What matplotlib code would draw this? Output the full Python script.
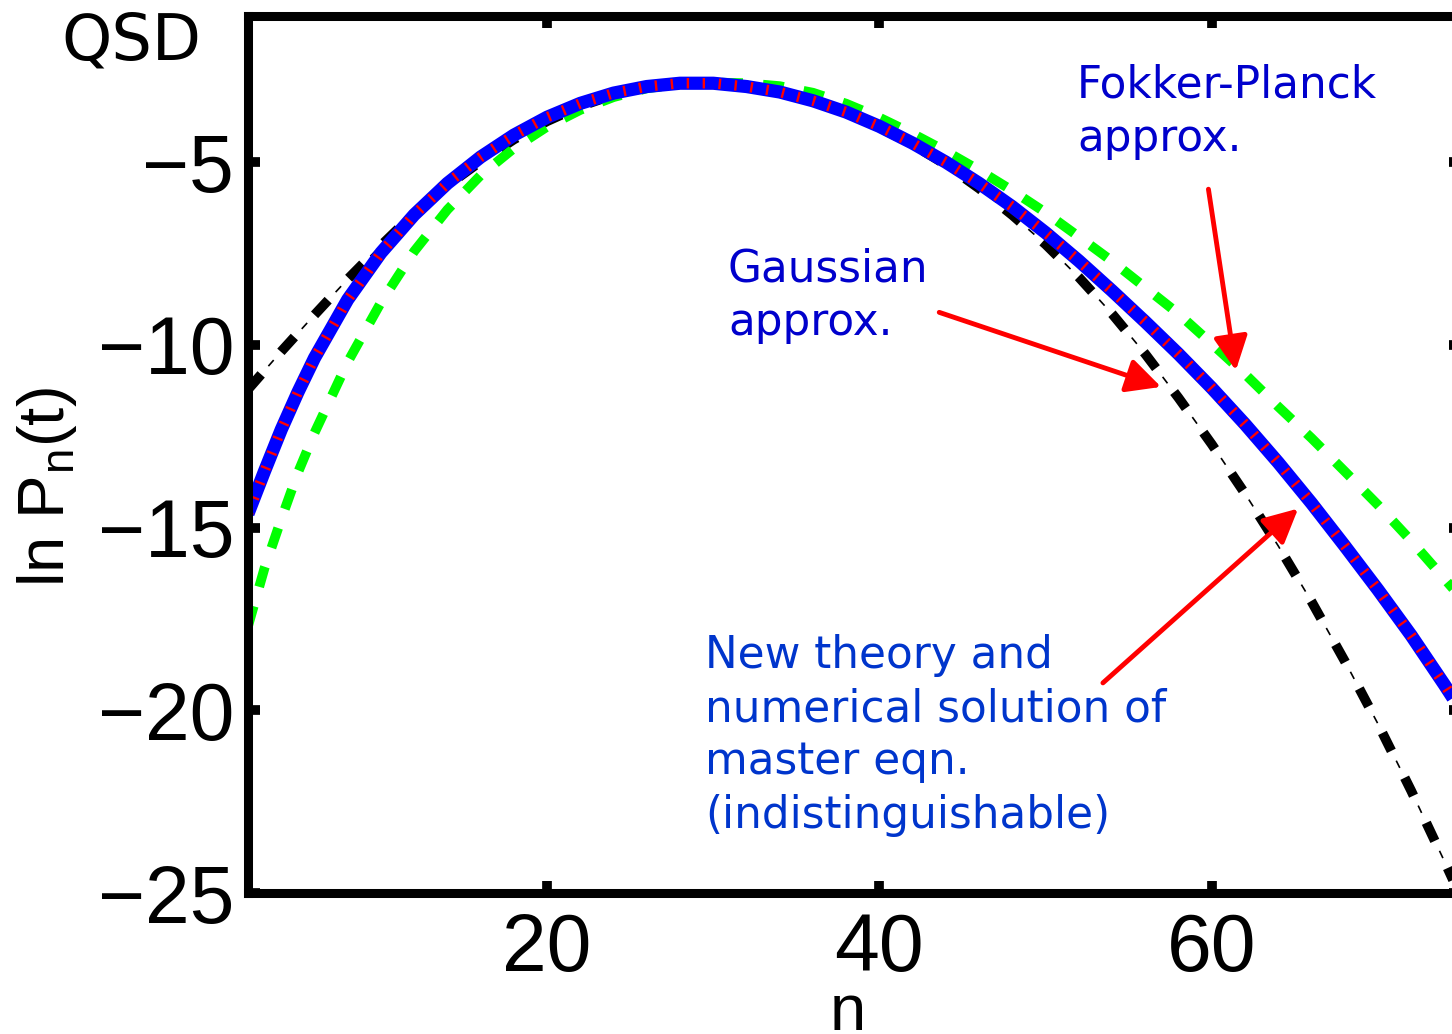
import numpy as np
import matplotlib
matplotlib.use('Agg')
import matplotlib.pyplot as plt

# values: ln P_n(t) of the quasi-stationary distribution
n = [2, 3, 4, 5, 6, 8, 10, 12, 14, 16, 18, 20, 22, 24, 26, 28, 30, 32, 34, 36, 38,
     40, 42, 44, 46, 48, 50, 52, 54, 56, 58, 60, 62, 64, 66, 68, 70, 72, 74, 75]

# new theory / numerical solution of master eqn. (blue solid + red)
new_theory = [-14.62, -13.45, -12.32, -11.3, -10.36, -8.76, -7.48, -6.44, -5.58, -4.86,
              -4.26, -3.77, -3.39, -3.11, -2.93, -2.84, -2.84, -2.93, -3.08, -3.32,
              -3.63, -4.02, -4.48, -5.0, -5.58, -6.22, -6.93, -7.7, -8.52, -9.37,
              -10.25, -11.18, -12.17, -13.22, -14.33, -15.5, -16.7, -17.95, -19.3, -20.0]

# Gaussian approx. (black dash-dot)
gaussian = [-11.22, -10.7, -10.18, -9.68, -9.18, -8.2, -7.28, -6.4, -5.64, -4.98,
            -4.38, -3.88, -3.47, -3.16, -2.95, -2.84, -2.83, -2.9, -3.07, -3.32,
            -3.65, -4.05, -4.52, -5.07, -5.72, -6.45, -7.25, -8.15, -9.15, -10.25,
            -11.45, -12.72, -14.07, -15.5, -17.02, -18.65, -20.37, -22.2, -24.13, -25.12]

# Fokker-Planck approx. (green dashed)
fokker_planck = [-17.7, -16.1, -14.77, -13.5, -12.41, -10.47, -8.84, -7.44, -6.3, -5.36,
                 -4.62, -4.03, -3.57, -3.22, -2.98, -2.86, -2.82, -2.84, -2.92, -3.1,
                 -3.4, -3.78, -4.22, -4.7, -5.22, -5.78, -6.38, -7.04, -7.71, -8.43,
                 -9.15, -9.97, -10.8, -11.69, -12.55, -13.46, -14.38, -15.36, -16.4, -16.92]

xticks = [20, 40, 60]
yticks = [-25, -20, -15, -10, -5]

plt.rcParams['lines.scale_dashes'] = False
plt.rcParams['font.family'] = ['Liberation Sans', 'DejaVu Sans']
W, H = 1452, 1034
fig = plt.figure(figsize=(W / 100, H / 100), dpi=100)
# right spine sits just outside the picture, as in the original crop
ax = fig.add_axes([248 / W, 1 - 893 / H, (1461 - 248) / W, (893 - 16) / H])

# Gaussian: thick dashes with thin dots in between
ax.plot(n, gaussian, color='black', lw=1.2, linestyle=(13.7, (5.8, 30.2)), dash_capstyle='butt')
ax.plot(n, gaussian, color='black', lw=7, linestyle=(0, (14.4, 21.6)), dash_capstyle='butt')
# Fokker-Planck
ax.plot(n, fokker_planck, color='#00ff00', lw=7, linestyle=(0, (15, 14.5)), dash_capstyle='butt')
# new theory and master eqn. on top of each other
ax.plot(n, new_theory, color='#0000ff', lw=9.5, solid_capstyle='butt', solid_joinstyle='round')
ax.plot(n, new_theory, color='#ff0000', lw=7.5, linestyle=(0, (1.7, 9.8)), dash_capstyle='butt')

ax.set_xlim(2, 75)
ax.set_ylim(-25, -1)
ax.set_xticks(xticks)
ax.set_yticks(yticks)
ax.tick_params(direction='in', length=8.5, width=7, top=True, right=True, labelsize=58)
ax.tick_params(axis='x', pad=14)
ax.tick_params(axis='y', pad=10)
for s in ax.spines.values():
    s.set_linewidth(6.5)

def fx(px):
    return px / W

def fy(py):
    return 1 - py / H

fig.text(fx(47), fy(487), r'ln P$_\mathregular{n}$(t)', rotation=90, ha='center', va='center',
         fontsize=47)
fig.text(fx(848), fy(1030), 'n', ha='center', va='baseline', fontsize=47)
fig.text(fx(131), fy(42), 'QSD', ha='center', va='center', fontsize=46, family='DejaVu Sans')

note = dict(ha='left', va='top', fontsize=31.5, family='DejaVu Sans', linespacing=1.3)
fig.text(fx(1077), fy(64), 'Fokker-Planck\napprox.', color='#0000cc', **note)
fig.text(fx(728), fy(248), 'Gaussian\napprox.', color='#0000cc', **note)
fig.text(fx(705), fy(634), 'New theory and\nnumerical solution of\nmaster eqn.\n(indistinguishable)',
         color='#0035cc', **note)

# red arrows, tail -> tip in data coordinates
arrows = [((59.8, -5.74), (61.45, -10.7)),
          ((43.6, -9.11), (56.95, -11.15)),
          ((53.45, -19.25), (65.2, -14.48))]
for tail, tip in arrows:
    ax.annotate('', xy=tip, xytext=tail,
                arrowprops=dict(arrowstyle='-|>', color='#ff0000', lw=3.5,
                                mutation_scale=52, shrinkA=0, shrinkB=0))

fig.savefig('out.png', dpi=100)
